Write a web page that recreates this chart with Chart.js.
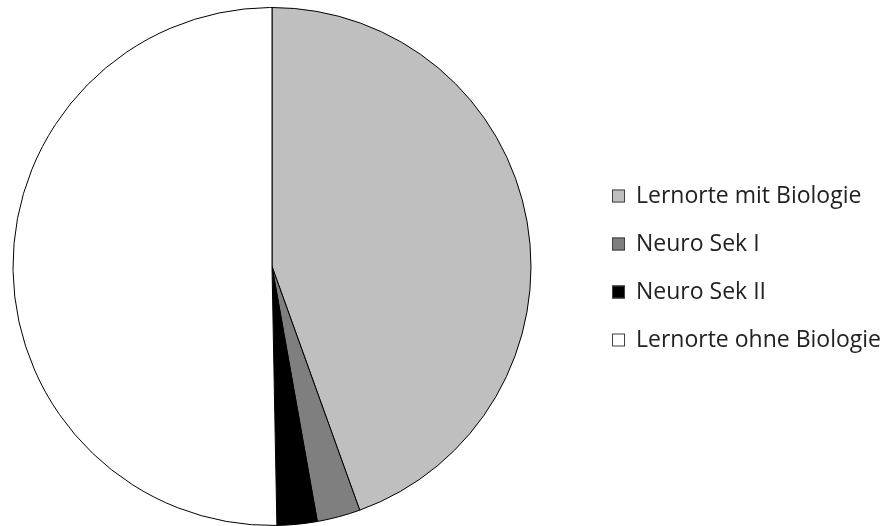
<!DOCTYPE html>
<html lang="de">
<head>
    <meta charset="utf-8">
    <title>Lernorte</title>
    <script src="https://cdn.jsdelivr.net/npm/chart.js"></script>
    <style>
        html, body { margin: 0; padding: 0; background: #fff; }
        #wrap { width: 882px; height: 526px; position: relative; }
    </style>
</head>
<body>
    <div id="wrap">
        <canvas id="grafico"></canvas>
    </div>

    <script>
        let kategorien = ["Lernorte mit Biologie", "Neuro Sek I", "Neuro Sek II", "Lernorte ohne Biologie"];
        let anteile = [44.5, 2.7, 2.5, 50.3];
        let farben = ["#bfbfbf", "#7f7f7f", "#000000", "#ffffff"];

        // Legende rechts neben dem Kreis, selbst gezeichnet
        const legendeRechts = {
            id: 'legendeRechts',
            afterDraw(chart) {
                const ctx = chart.ctx;
                const ds = chart.data.datasets[0];
                const x = 612, box = 13, abstand = 48;
                const yStart = 268 - abstand * (chart.data.labels.length - 1) / 2;
                ctx.save();
                ctx.font = '23px "Open Sans", sans-serif';
                ctx.textBaseline = 'middle';
                chart.data.labels.forEach((label, i) => {
                    const y = yStart + i * abstand;
                    ctx.fillStyle = ds.backgroundColor[i];
                    ctx.fillRect(x, y - box / 2, box, box);
                    ctx.strokeStyle = '#404040';
                    ctx.lineWidth = 1;
                    ctx.strokeRect(x + 0.5, y - box / 2 + 0.5, box - 1, box - 1);
                    ctx.fillStyle = '#222';
                    ctx.fillText(label, x + 24, y);
                });
                ctx.restore();
            }
        };

        new Chart(document.getElementById('grafico'), {
            type: 'pie',
            data: {
                labels: kategorien,
                datasets: [{
                    data: anteile,
                    backgroundColor: farben,
                    borderColor: '#000',
                    borderWidth: 1
                }]
            },
            options: {
                responsive: true,
                maintainAspectRatio: false,
                animation: false,
                layout: { padding: { left: 0, right: 338, top: 7, bottom: 0 } },
                plugins: {
                    legend: { display: false },
                    tooltip: { enabled: false }
                }
            },
            plugins: [legendeRechts]
        });
    </script>
</body>
</html>
